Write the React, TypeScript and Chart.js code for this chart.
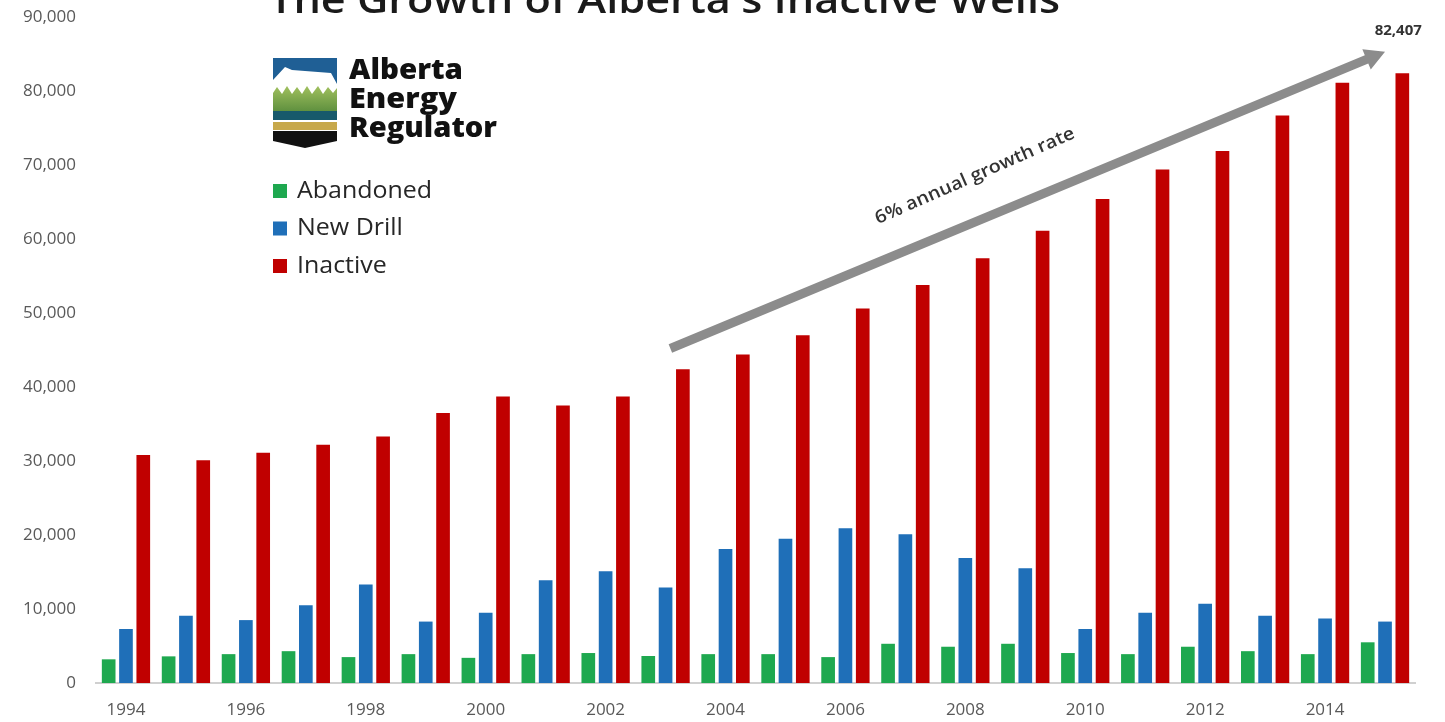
import { useEffect, useRef } from 'react';
import { Chart, registerables } from 'chart.js';

Chart.register(...registerables);

const years = ['1994', '1995', '1996', '1997', '1998', '1999', '2000', '2001', '2002', '2003', '2004', '2005', '2006', '2007', '2008', '2009', '2010', '2011', '2012', '2013', '2014', '2015'];
const abandoned = [3200, 3600, 3900, 4300, 3500, 3900, 3400, 3900, 4050, 3650, 3900, 3900, 3500, 5300, 4900, 5300, 4050, 3900, 4900, 4300, 3900, 5500];
const newDrill = [7300, 9100, 8500, 10500, 13300, 8300, 9500, 13900, 15100, 12900, 18100, 19500, 20900, 20100, 16900, 15500, 7300, 9500, 10700, 9100, 8700, 8300];
const inactive = [30800, 30100, 31100, 32200, 33300, 36500, 38700, 37500, 38700, 42400, 44400, 47000, 50600, 53800, 57400, 61100, 65400, 69400, 71900, 76700, 81100, 82407];
const seriesNames = ['Abandoned', 'New Drill', 'Inactive'];
const seriesColors = ['#1ea84f', '#1f6fb8', '#c00000'];
const yMin = 0;
const yMax = 90000;
const yStep = 10000;
const titleText = "The Growth of Alberta's Inactive Wells";
const logoLines = ['Alberta', 'Energy', 'Regulator'];
const arrowText = '6% annual growth rate';
const endValueText = '82,407';

const FONT = "'Open Sans', 'DejaVu Sans', sans-serif";

function fitText(ctx: CanvasRenderingContext2D, text: string, x: number, y: number, w: number) {
  const m = ctx.measureText(text).width;
  ctx.save();
  ctx.translate(x, y);
  ctx.scale(w / m, 1);
  ctx.fillText(text, 0, 0);
  ctx.restore();
}

function drawShield(ctx: CanvasRenderingContext2D) {
  const L = 273;
  const R = 337;
  ctx.save();
  ctx.fillStyle = '#1f5f95';
  ctx.fillRect(L, 58, R - L, 32);
  ctx.fillStyle = '#ffffff';
  ctx.beginPath();
  ctx.moveTo(L, 80);
  ctx.lineTo(285, 67);
  ctx.lineTo(292, 70);
  ctx.lineTo(331, 73);
  ctx.lineTo(R, 84);
  ctx.lineTo(R, 96);
  ctx.lineTo(L, 96);
  ctx.closePath();
  ctx.fill();
  const g = ctx.createLinearGradient(0, 85, 0, 112);
  g.addColorStop(0, '#a3c25f');
  g.addColorStop(1, '#5d8f3e');
  ctx.fillStyle = g;
  ctx.beginPath();
  ctx.moveTo(L, 93);
  const zig: [number, number][] = [[277, 87], [282, 94], [287, 86], [292, 94], [297, 87], [302, 94], [307, 86], [312, 94], [318, 86], [323, 94], [328, 87], [333, 93], [R, 88]];
  zig.forEach(([x, y]) => ctx.lineTo(x, y));
  ctx.lineTo(R, 112);
  ctx.lineTo(L, 112);
  ctx.closePath();
  ctx.fill();
  ctx.fillStyle = '#17596b';
  ctx.fillRect(L, 111, R - L, 9);
  ctx.fillStyle = '#c7a84b';
  ctx.fillRect(L, 122, R - L, 8);
  ctx.fillStyle = '#111111';
  ctx.beginPath();
  ctx.moveTo(L, 131);
  ctx.lineTo(R, 131);
  ctx.lineTo(R, 141);
  ctx.lineTo(305, 148);
  ctx.lineTo(L, 141);
  ctx.closePath();
  ctx.fill();
  ctx.restore();
}

const decorPlugin = {
  id: 'decor',
  afterDraw(chart: any) {
    const ctx: CanvasRenderingContext2D = chart.ctx;
    const xs = chart.scales.x;
    const ys = chart.scales.y;
    ctx.save();

    // Title (cut off at the top edge)
    ctx.fillStyle = '#1a1a1a';
    ctx.font = `600 38px ${FONT}`;
    ctx.textBaseline = 'alphabetic';
    ctx.textAlign = 'left';
    fitText(ctx, titleText, 269, 13, 791);

    // Logo
    drawShield(ctx);
    ctx.fillStyle = '#111111';
    ctx.font = `800 28px ${FONT}`;
    fitText(ctx, logoLines[0], 349, 79, 114);
    fitText(ctx, logoLines[1], 349, 108, 108);
    fitText(ctx, logoLines[2], 349, 137, 148);

    // Legend
    const rowY = [191, 228.5, 266];
    chart.data.datasets.forEach((ds: any, i: number) => {
      ctx.fillStyle = ds.backgroundColor;
      ctx.fillRect(273, rowY[i] - 7, 14, 14);
      ctx.fillStyle = '#262626';
      ctx.font = `400 24px ${FONT}`;
      ctx.textBaseline = 'middle';
      ctx.textAlign = 'left';
      fitText(ctx, ds.label, 297, rowY[i], ctx.measureText(ds.label).width * 1.04);
    });

    // Growth arrow in data coordinates
    const x0 = xs.getPixelForValue(9.08);
    const y0 = ys.getPixelForValue(45200);
    const x1 = xs.getPixelForValue(21);
    const y1 = ys.getPixelForValue(85300);
    const ang = Math.atan2(y1 - y0, x1 - x0);
    const len = Math.hypot(x1 - x0, y1 - y0);
    ctx.save();
    ctx.translate(x0, y0);
    ctx.rotate(ang);
    ctx.fillStyle = '#8c8c8c';
    const hw = 4.5;
    const headL = 20;
    const headW = 11;
    ctx.beginPath();
    ctx.moveTo(0, -hw);
    ctx.lineTo(len - headL, -hw);
    ctx.lineTo(len - headL, -headW);
    ctx.lineTo(len, 0);
    ctx.lineTo(len - headL, headW);
    ctx.lineTo(len - headL, hw);
    ctx.lineTo(0, hw);
    ctx.closePath();
    ctx.fill();
    ctx.restore();

    // Arrow label
    const tx = xs.getPixelForValue(14.16);
    const ty = ys.getPixelForValue(68500);
    ctx.save();
    ctx.translate(tx, ty);
    ctx.rotate(ang - 0.02);
    ctx.fillStyle = '#333333';
    ctx.font = `600 18px ${FONT}`;
    ctx.textAlign = 'left';
    ctx.textBaseline = 'middle';
    fitText(ctx, arrowText, -108, 0, 216);
    ctx.restore();

    // End value
    ctx.fillStyle = '#333333';
    ctx.font = `700 15px ${FONT}`;
    ctx.textAlign = 'center';
    ctx.textBaseline = 'middle';
    ctx.fillText(endValueText, xs.getPixelForValue(21.22), ys.getPixelForValue(88100));

    ctx.restore();
  },
};

export default function App() {
  const ref = useRef<HTMLCanvasElement | null>(null);
  useEffect(() => {
    if (!ref.current) return;
    const data = [abandoned, newDrill, inactive];
    const chart = new Chart(ref.current, {
      type: 'bar',
      data: {
        labels: years,
        datasets: seriesNames.map((name, i) => ({
          label: name,
          data: data[i],
          backgroundColor: seriesColors[i],
          borderWidth: 0,
          categoryPercentage: 0.866,
          barPercentage: 0.79,
        })),
      },
      options: {
        animation: false,
        responsive: false,
        layout: { padding: { left: 0, right: 30, top: 17, bottom: 0 } },
        plugins: {
          legend: { display: false },
          tooltip: { enabled: false },
          title: { display: false },
        },
        scales: {
          x: {
            grid: { display: false },
            border: { display: true, color: '#d0d0d0', width: 2 },
            ticks: {
              autoSkip: false,
              maxRotation: 0,
              minRotation: 0,
              padding: 9,
              color: '#595959',
              font: { family: FONT, size: 17 },
              callback: (_v: any, i: number) => (i % 2 === 0 ? years[i] : ''),
            },
            afterFit: (s: any) => {
              s.height = 39;
              s.paddingLeft = 0;
              s.paddingRight = 0;
            },
          },
          y: {
            min: yMin,
            max: yMax,
            grid: { display: false },
            border: { display: false },
            ticks: {
              stepSize: yStep,
              padding: 12,
              color: '#595959',
              font: { family: FONT, size: 17 },
              callback: (v: any) => Number(v).toLocaleString('en-US'),
            },
            afterFit: (s: any) => {
              s.width = 96;
              s.paddingTop = 0;
              s.paddingBottom = 0;
            },
          },
        },
      },
      plugins: [decorPlugin],
    });
    return () => chart.destroy();
  }, []);
  return (
    <div style={{ position: 'absolute', left: 0, top: 0, width: 1445, height: 722, background: '#ffffff' }}>
      <canvas ref={ref} width={1445} height={722} style={{ display: 'block' }} />
    </div>
  );
}
